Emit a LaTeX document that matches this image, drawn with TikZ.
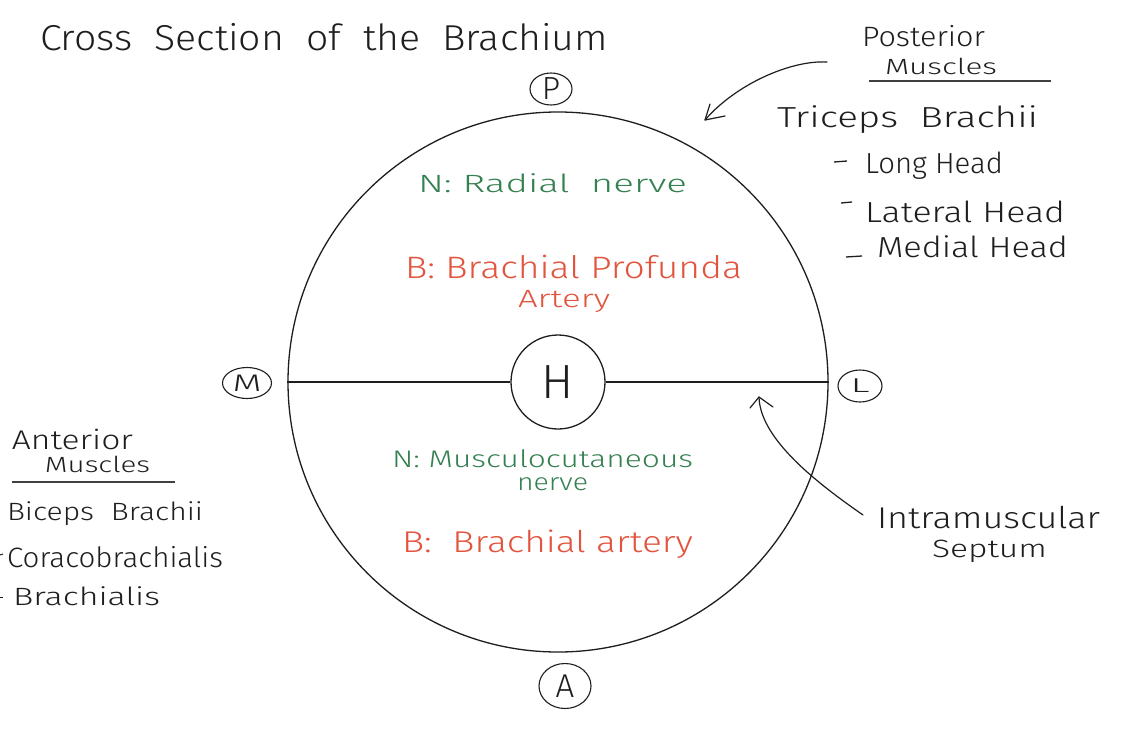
\documentclass[tikz,border=0pt]{standalone}
\usepackage{fontspec}
\setmainfont{Fira Sans Light}
\usepackage{graphicx}
\usetikzlibrary{shapes.geometric}
\definecolor{ink}{RGB}{30,30,30}
\definecolor{nervecol}{RGB}{52,128,80}
\definecolor{arterycol}{RGB}{226,84,62}
\newcommand\hwt[3]{\resizebox{#1pt}{\height}{\fontsize{#2}{#2}\selectfont #3}}
\begin{document}
\begin{tikzpicture}[x=1pt,y=-1pt,
  txt/.style={anchor=base west, inner sep=0pt, outer sep=0pt, text=ink},
  nv/.style={txt, text=nervecol},
  art/.style={txt, text=arterycol},
  lbl/.style={ellipse, draw=ink, line width=1.1pt, inner sep=0pt, text=ink},
  stroke/.style={draw=ink, line width=1.3pt},
  pointer/.style={draw=ink, line width=1.2pt, line cap=round, line join=round}]
\useasboundingbox (0,0) rectangle (1126,736);
\fill[white] (0,0) rectangle (1126,736);

% title
\node[txt] (title) at (40,50) {\hwt{568}{36}{Cross\ \ Section\ \ of\ \ the\ \ Brachium}};

% arm cross-section
\node[circle, stroke, minimum size=540pt, inner sep=0pt] (arm) at (558,382) {};
\node[circle, stroke, minimum size=94pt, inner sep=0pt, text=ink] (hum) at (558,382) {\fontsize{48}{48}\selectfont H};
\draw[stroke] (arm.west) -- (hum.west);
\draw[stroke] (hum.east) -- (arm.east);

% orientation labels
\node[lbl, minimum width=42pt, minimum height=32pt] (P) at (551,89) {\fontsize{32}{32}\selectfont P};
\node[lbl, minimum width=49pt, minimum height=31pt] (M) at (247,383) {\hwt{29}{24}{M}};
\node[lbl, minimum width=44pt, minimum height=32pt] (L) at (860,386) {\hwt{19}{20}{L}};
\node[lbl, minimum width=52pt, minimum height=45pt] (A) at (565,686) {\fontsize{33}{33}\selectfont A};

% posterior compartment
\node[nv] (rn) at (418,192) {\hwt{269}{25}{N:\ Radial\ \ nerve}};
\node[art] (bp) at (405,278) {\hwt{337}{31}{B:\ Brachial\ Profunda}};
\node[art] (bpa) at (518,307) {\hwt{92}{25}{Artery}};

% anterior compartment
\node[nv] (mc) at (392,467) {\hwt{301}{24}{N:\ Musculocutaneous}};
\node[nv] (mcn) at (517,490) {\hwt{71}{24}{nerve}};
\node[art] (ba) at (402,552) {\hwt{291}{30}{B:\ \ Brachial artery}};

% posterior muscles
\node[txt] (post) at (862,46) {\hwt{123}{28}{Posterior}};
\node[txt] (postm) at (885,74) {\hwt{112}{22}{Muscles}};
\draw[draw=ink!85, line width=1.6pt] (869,81) -- (1051,81);
\node[txt] (tri) at (777,127) {\hwt{261}{29}{Triceps\ \ Brachii}};
\node[txt] (lh) at (865,173) {\hwt{138}{29}{Long Head}};
\node[txt] (lat) at (865,222) {\hwt{200}{29}{Lateral Head}};
\node[txt] (med) at (877,257) {\hwt{191}{29}{Medial Head}};
\draw[stroke, line width=1.3pt] (834,162) -- (847,161);
\draw[stroke, line width=1.3pt] (841,203) -- (852,202);
\draw[stroke, line width=1.3pt] (846,257) -- (862,256);
\coordinate (pa) at (827,62);
\coordinate (pb) at (705,120);
\draw[pointer] (pa) .. controls (790,60) and (735,85) .. (pb);
\draw[pointer] (pb) ++(5,-16) -- (pb) -- ++(20,-4);

% anterior muscles
\node[txt] (ant) at (12,449) {\hwt{121}{27}{Anterior}};
\node[txt] (antm) at (45,472) {\hwt{105}{22}{Muscles}};
\draw[draw=ink!85, line width=1.4pt] (12,482) -- (175,482);
\node[txt] (bic) at (7,520) {\hwt{196}{25}{Biceps\ \ Brachii}};
\node[txt] (cor) at (7,567) {\hwt{216}{28}{Coracobrachialis}};
\node[txt] (bra) at (13,605) {\hwt{147}{25}{Brachialis}};
\draw[stroke, line width=1pt] (0,555) -- (3,554);
\draw[stroke, line width=1pt] (0,597) -- (3,597);

% septum
\node[txt] (sep) at (877,528) {\hwt{223}{30}{Intramuscular}};
\node[txt] (sepb) at (932,557) {\hwt{115}{25}{Septum}};
\coordinate (sa) at (863,515);
\coordinate (sb) at (759,397);
\draw[pointer] (sa) .. controls (820,485) and (760,440) .. (sb);
\draw[pointer] (sb) ++(-9,11) -- (sb) -- ++(14,10);
\end{tikzpicture}
\end{document}
